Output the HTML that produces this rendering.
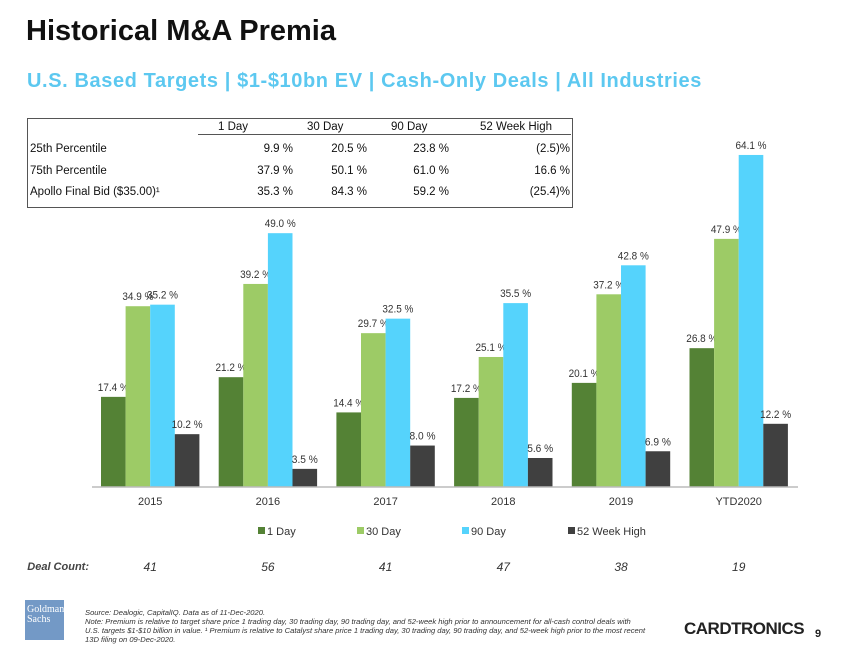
<!DOCTYPE html>
<html><head><meta charset="utf-8">
<style>
body{margin:0;background:#fff;font-family:"Liberation Sans",sans-serif;}
#page{position:relative;width:850px;height:657px;overflow:hidden;background:#fff;}
.abs{position:absolute;}
</style></head>
<body>
<div id="page">
<div class="abs" style="left:26px;top:15px;font-size:29px;font-weight:bold;color:#111;">Historical M&amp;A Premia</div>
<div class="abs" style="left:27px;top:70px;font-size:20px;font-weight:bold;color:#5cc8f0;letter-spacing:0.6px;">U.S. Based Targets | $1-$10bn EV | Cash-Only Deals | All Industries</div>

<div class="abs" style="left:27px;top:118px;width:544px;height:88px;border:1px solid #555;font-size:11.5px;color:#111;">
 <div class="abs" style="left:170px;top:15px;width:373px;border-top:1px solid #555;"></div>
 <div class="abs" style="left:190px;top:2px;">1 Day</div>
 <div class="abs" style="left:279px;top:2px;">30 Day</div>
 <div class="abs" style="left:363px;top:2px;">90 Day</div>
 <div class="abs" style="left:452px;top:2px;">52 Week High</div>
 <div class="abs" style="left:2px;top:24px;width:540px;">
  <span class="abs" style="left:0">25th Percentile</span><span class="abs" style="right:277px">9.9 %</span><span class="abs" style="right:203px">20.5 %</span><span class="abs" style="right:121px">23.8 %</span><span class="abs" style="right:0">(2.5)%</span></div>
 <div class="abs" style="left:2px;top:46px;width:540px;">
  <span class="abs" style="left:0">75th Percentile</span><span class="abs" style="right:277px">37.9 %</span><span class="abs" style="right:203px">50.1 %</span><span class="abs" style="right:121px">61.0 %</span><span class="abs" style="right:0">16.6 %</span></div>
 <div class="abs" style="left:2px;top:67px;width:540px;">
  <span class="abs" style="left:0;white-space:nowrap">Apollo Final Bid ($35.00)¹</span><span class="abs" style="right:277px">35.3 %</span><span class="abs" style="right:203px">84.3 %</span><span class="abs" style="right:121px">59.2 %</span><span class="abs" style="right:0">(25.4)%</span></div>
</div>

<svg class="abs" style="left:0;top:0" width="850" height="657">
 <g id="bars"></g>
 <line x1="92" y1="487" x2="798" y2="487" stroke="#bbb" stroke-width="1.5"/>
 <g id="xlabels" font-family="Liberation Sans, sans-serif" font-size="11" fill="#333"></g>
 <g id="legend" font-family="Liberation Sans, sans-serif" font-size="11" fill="#333"></g>
 <g id="counts" font-family="Liberation Sans, sans-serif" font-size="12" font-style="italic" fill="#333"></g>
 <text x="89" y="570" font-size="11" font-weight="bold" font-style="italic" fill="#444" text-anchor="end">Deal Count:</text>
</svg>

<div class="abs" style="left:25px;top:600px;width:39px;height:40px;background:#7399c6;color:#fff;font-family:'Liberation Serif',serif;font-size:10px;line-height:10px;padding:5px 0 0 2px;box-sizing:border-box;">Goldman<br>Sachs</div>
<div class="abs" style="left:85px;top:608px;font-size:7.6px;line-height:9px;font-style:italic;color:#333;width:700px;white-space:nowrap;">Source: Dealogic, CapitalIQ. Data as of 11-Dec-2020.<br>Note: Premium is relative to target share price 1 trading day, 30 trading day, 90 trading day, and 52-week high prior to announcement for all-cash control deals with<br>U.S. targets $1-$10 billion in value. ¹ Premium is relative to Catalyst share price 1 trading day, 30 trading day, 90 trading day, and 52-week high prior to the most recent<br>13D filing on 09-Dec-2020.</div>
<div class="abs" style="left:684px;top:619px;font-size:17px;font-weight:bold;color:#222;letter-spacing:-0.5px;">CARDTRONICS</div>
<div class="abs" style="left:815px;top:628px;font-size:11px;font-weight:bold;color:#222;">9</div>
</div>
<script>
const categories=["2015","2016","2017","2018","2019","YTD2020"];
const oneDay=[17.4,21.2,14.4,17.2,20.1,26.8];
const thirtyDay=[34.9,39.2,29.7,25.1,37.2,47.9];
const ninetyDay=[35.2,49.0,32.5,35.5,42.8,64.1];
const week52=[10.2,3.5,8.0,5.6,6.9,12.2];
const dealCounts=[41,56,41,47,38,19];
const seriesNames=["1 Day","30 Day","90 Day","52 Week High"];
const colors=["#548235","#9dcb66","#55d3fc","#404040"];
const NS="http://www.w3.org/2000/svg";
const base=487, pxPer=5.18, x0=101, step=117.7, bw=24.6;
function yScale(v){return base-v*pxPer;}
function xGroup(i){return x0+i*step;}
const series=[oneDay,thirtyDay,ninetyDay,week52];
const bars=document.getElementById('bars');
series.forEach((s,si)=>{s.forEach((v,i)=>{
 const r=document.createElementNS(NS,'rect');
 const x=xGroup(i)+si*bw;
 r.setAttribute('x',x);r.setAttribute('y',yScale(v));
 r.setAttribute('width',bw);r.setAttribute('height',base-yScale(v));
 r.setAttribute('fill',colors[si]);
 
 
 bars.appendChild(r);
 const t=document.createElementNS(NS,'text');
 const label=v.toFixed(1)+' %';
 const w=label.length>5?31:26;
 t.setAttribute('x',x+bw/2-w/2);t.setAttribute('y',yScale(v)-6);
 t.setAttribute('font-size','11');
 t.setAttribute('textLength',w);
 t.setAttribute('lengthAdjust','spacingAndGlyphs');
 t.setAttribute('font-family','Liberation Sans, sans-serif');t.setAttribute('fill','#333');
 t.textContent=label;
 
 
 bars.appendChild(t);
});});
const xl=document.getElementById('xlabels'), ct=document.getElementById('counts');
categories.forEach((c,i)=>{
 const t=document.createElementNS(NS,'text');
 t.setAttribute('x',xGroup(i)+2*bw);t.setAttribute('y',505);t.setAttribute('text-anchor','middle');
 t.textContent=c;
 
 
 xl.appendChild(t);
 const d=document.createElementNS(NS,'text');
 d.setAttribute('x',xGroup(i)+2*bw);d.setAttribute('y',571);d.setAttribute('text-anchor','middle');
 d.textContent=dealCounts[i];
 
 
 ct.appendChild(d);
});
const lg=document.getElementById('legend');
const lx=[258,357,462,568];
seriesNames.forEach((n,i)=>{
 const g=document.createElementNS(NS,'g');
 
 
 const r=document.createElementNS(NS,'rect');
 r.setAttribute('x',lx[i]);r.setAttribute('y',527);r.setAttribute('width',7);r.setAttribute('height',7);r.setAttribute('fill',colors[i]);
 const t=document.createElementNS(NS,'text');
 t.setAttribute('x',lx[i]+9);t.setAttribute('y',535);t.textContent=n;
 g.appendChild(r);g.appendChild(t);lg.appendChild(g);
});
</script>
</body></html>
